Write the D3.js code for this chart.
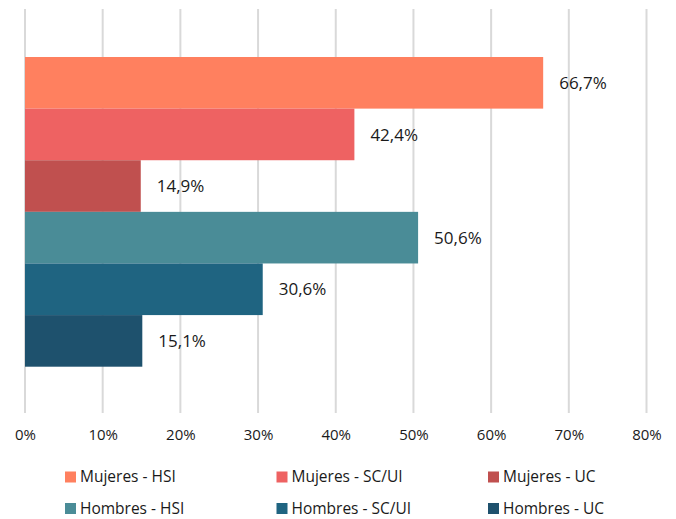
<!DOCTYPE html>
<html><head><meta charset="utf-8">
<script src="https://cdn.jsdelivr.net/npm/d3@7"></script>
<style>body{margin:0;background:#fff}svg{display:block;font-family:"Open Sans",sans-serif}</style>
</head><body><svg id="c" width="676" height="519"></svg>
<script>
const series = ["Mujeres - HSI","Mujeres - SC/UI","Mujeres - UC","Hombres - HSI","Hombres - SC/UI","Hombres - UC"];
const values = [66.7, 42.4, 14.9, 50.6, 30.6, 15.1];
const colors = ["#FF805F","#EE6262","#C0504F","#4A8C97","#1F6481","#1E516D"];
const ticks = [0,10,20,30,40,50,60,70,80];

const svg = d3.select("#c");
const x = d3.scaleLinear().domain([0,80]).range([25,646.5]);
const y = d3.scaleBand().domain(series).range([57,366.7]).padding(0);
const fmt = v => String(v.toFixed(1)).replace(".", ",") + "%";

// gridlines
svg.append("g").selectAll("line").data(ticks).join("line")
  .attr("x1", d=>x(d)).attr("x2", d=>x(d)).attr("y1", 9).attr("y2", 413)
  .attr("stroke", "#d9d9d9").attr("stroke-width", 2);

// axis
const ax = svg.append("g").attr("transform","translate(0,413)")
  .call(d3.axisBottom(x).tickValues(ticks).tickFormat(d=>d+"%").tickSize(0).tickPadding(16));
ax.select(".domain").remove();
ax.selectAll("text").attr("font-size",15).attr("fill","#1a1a1a").attr("font-family","Open Sans, sans-serif");

// bars
svg.append("g").selectAll("rect").data(series).join("rect")
  .attr("x", x(0)).attr("y", d=>y(d)).attr("height", y.bandwidth())
  .attr("width", (d,i)=>x(values[i])-x(0)).attr("fill",(d,i)=>colors[i]);

// labels
svg.append("g").selectAll("text").data(series).join("text")
  .attr("x",(d,i)=>x(values[i])+16).attr("y", d=>y(d)+y.bandwidth()/2)
  .attr("dy","0.36em").attr("font-size",17).attr("fill","#1a1a1a")
  .text((d,i)=>fmt(values[i]));

// legend
const lg = svg.append("g");
series.forEach((s,i)=>{
  const col = i%3, row = Math.floor(i/3);
  const lx = 65 + col*211.5, ly = 477 + row*31.5;
  lg.append("rect").attr("x",lx).attr("y",ly-5.5).attr("width",11).attr("height",11).attr("fill",colors[i]);
  lg.append("text").attr("x",lx+15).attr("y",ly).attr("dy","0.35em").attr("font-size",15.5).attr("fill","#1a1a1a").text(s);
});
</script></body></html>
